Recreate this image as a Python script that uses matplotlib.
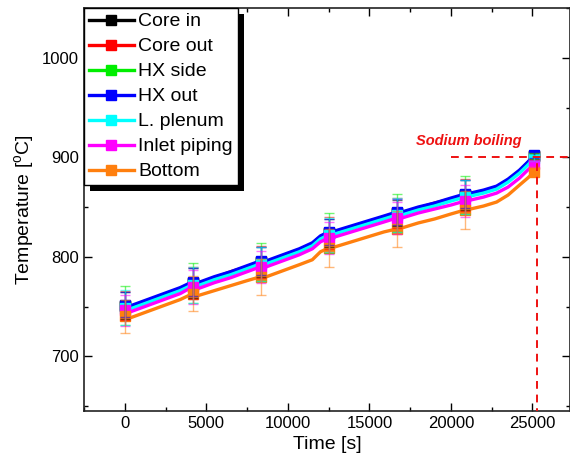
import matplotlib
matplotlib.use("Agg")
import matplotlib.pyplot as plt
from matplotlib.patches import Rectangle
from matplotlib.transforms import IdentityTransform
from matplotlib.ticker import MultipleLocator
import numpy as np

plt.rcParams["font.family"] = ["Liberation Sans", "DejaVu Sans"]
plt.rcParams["mathtext.fontset"] = "custom"
plt.rcParams["mathtext.rm"] = "Liberation Sans"

# ---------- data ---------- #
time_s = [0, 400, 1400, 2400, 3400, 4170, 4500, 5500, 6500, 7500, 8340, 8700, 9700,
          10700, 11500, 12000, 12510, 12900, 13900, 14900, 15900, 16680, 17000, 18000,
          19000, 20000, 20850, 21200, 22000, 22800, 23500, 24200, 24700, 25100]
marker_idx = [0, 5, 10, 16, 21, 26, 33]

core_in = [751, 750, 756, 762, 768, 774, 773, 779, 784, 790, 795, 795, 801, 807, 813, 820, 824,
           825, 830, 835, 840, 844, 844, 849, 853, 858, 862, 863, 866, 870, 877, 886, 894, 901]
core_out = [751, 750, 756, 762, 768, 774, 773, 779, 785, 790, 795, 795, 801, 807, 813, 820, 824,
            825, 830, 835, 840, 844, 844, 849, 854, 858, 862, 863, 866, 870, 877, 886, 894, 901]
hx_side = [751, 750, 756, 762, 768, 774, 773, 779, 784, 790, 795, 795, 801, 807, 813, 820, 824,
           825, 830, 835, 840, 844, 844, 849, 853, 858, 862, 863, 866, 870, 877, 886, 894, 901]
hx_out = [752, 751, 757, 763, 769, 775, 774, 780, 785, 791, 796, 796, 802, 808, 814, 821, 825,
          826, 831, 836, 841, 845, 845, 850, 854, 859, 863, 864, 867, 871, 878, 887, 895, 902]
l_plenum = [749, 748, 754, 760, 766, 772, 771, 777, 782, 788, 793, 793, 799, 805, 811, 818, 822,
            823, 828, 833, 838, 842, 842, 847, 851, 856, 860, 861, 864, 868, 875, 884, 892, 899]
inlet_piping = [746, 745, 751, 757, 763, 770, 768, 774, 779, 785, 790, 790, 796, 802, 808, 815, 819,
                820, 825, 830, 835, 839, 839, 844, 848, 852, 856, 857, 860, 864, 870, 879, 887, 893]
bottom = [740, 739, 745, 751, 757, 763, 761, 766, 771, 776, 780, 780, 786, 792, 797, 805, 809,
          810, 815, 820, 825, 828, 829, 834, 838, 843, 847, 848, 851, 855, 862, 872, 879, 885]

# error bar half-widths at the marker points
err_core_in = [14, 15, 15, 14, 13, 15, 3]
err_core_out = [15, 16, 16, 16, 15, 16, 3]
err_hx_side = [20, 20, 19, 20, 19, 19, 3]
err_hx_out = [13, 14, 14, 13, 13, 14, 3]
err_l_plenum = [18, 18, 17, 17, 17, 17, 3]
err_inlet = [16, 17, 16, 16, 16, 16, 3]
err_bottom = [17, 18, 18, 19, 18, 19, 3]

labels = ["Core in", "Core out", "HX side", "HX out", "L. plenum", "Inlet piping", "Bottom"]
colors = ["#000000", "#ff0000", "#00ee00", "#0000ff", "#00ffff", "#ff00ff", "#ff7f0e"]
series = [core_in, core_out, hx_side, hx_out, l_plenum, inlet_piping, bottom]
errors = [err_core_in, err_core_out, err_hx_side, err_hx_out, err_l_plenum, err_inlet, err_bottom]

boiling_time = 25250
boiling_temp = 900

# ---------- figure ---------- #
fig = plt.figure(figsize=(5.7, 4.62), dpi=100)
ax = fig.add_axes([84 / 570, 51 / 462, 486 / 570, 403 / 462])

t = np.array(time_s)
handles = []
for vals, err, c, lab in zip(series, errors, colors, labels):
    v = np.array(vals)
    h, = ax.plot(t, v, color=c, lw=2.4, marker="s", ms=6.5, markevery=marker_idx, label=lab, zorder=2)
    ax.errorbar(t[marker_idx], v[marker_idx], yerr=err, fmt="none", ecolor=c, alpha=0.55,
                elinewidth=1, capsize=3.5, capthick=1, zorder=3)
    handles.append(h)

ax.plot([20000, 28000], [boiling_temp, boiling_temp], color="#ee1111", ls=(0, (4, 3)), lw=1.4, zorder=4)
ax.plot([boiling_time, boiling_time], [640, boiling_temp], color="#ee1111", ls=(0, (4, 3)), lw=1.4, zorder=4)
ax.text(21100, 916, "Sodium boiling", color="#ee1111", fontsize=10.5, fontweight="bold",
        fontstyle="italic", ha="center", va="center")

ax.set_xlim(-2500, 27300)
ax.set_ylim(645, 1050)
ax.set_xticks([0, 5000, 10000, 15000, 20000, 25000])
ax.xaxis.set_minor_locator(MultipleLocator(2500))
ax.set_yticks([700, 800, 900, 1000])
ax.yaxis.set_minor_locator(MultipleLocator(50))
ax.tick_params(which="both", direction="in", top=True, right=True, labelsize=12, width=1)
ax.tick_params(which="major", length=6)
ax.tick_params(which="minor", length=3)
for s in ax.spines.values():
    s.set_linewidth(1.2)
    s.set_color("#222222")
ax.set_xlabel("Time [s]", fontsize=14)
ax.set_ylabel("Temperature [$^{\\rm o}$C]", fontsize=14)

leg = ax.legend(handles=handles, loc="upper left", bbox_to_anchor=(0, 1), borderaxespad=0,
                fontsize=14, fancybox=False, edgecolor="black", framealpha=1, handlelength=2.3,
                handletextpad=0.25, labelspacing=0.38, borderpad=0.25, numpoints=1)
leg.get_frame().set_linewidth(1.0)
leg.set_zorder(6)

# hard black drop shadow behind the legend box
fig.canvas.draw()
bb = leg.get_window_extent()
ax.add_patch(Rectangle((bb.x0 + 6, bb.y0 - 6), bb.width, bb.height, transform=IdentityTransform(),
                       facecolor="black", edgecolor="none", zorder=5.5, clip_on=False))

fig.savefig("out.png", dpi=100)
